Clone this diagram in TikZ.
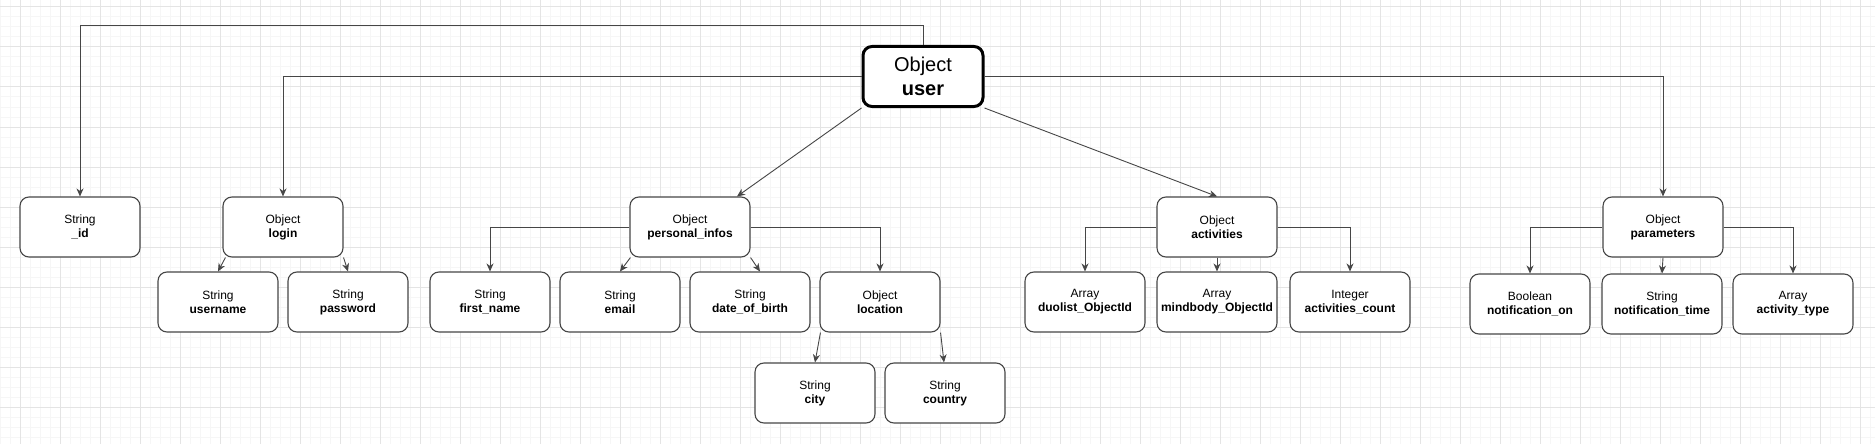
\documentclass[tikz,border=0pt]{standalone}
\usepackage{fontspec}
\setmainfont{Liberation Sans}
\usepackage{tikz}
\usetikzlibrary{calc,arrows.meta}

\definecolor{minorgrid}{RGB}{246,246,246}
\definecolor{majorgrid}{RGB}{228,228,228}
\definecolor{edge}{RGB}{70,70,70}

\tikzset{
    field/.style={draw=edge, line width=1.1pt, rounded corners=9pt, fill=white,
        minimum width=120pt, minimum height=60pt, inner sep=0pt, align=center,
        font=\fontsize{12}{14}\selectfont},
    root/.style={field, draw=black, line width=3pt, font=\fontsize{20}{24}\selectfont},
    link/.style={draw=edge, line width=0.9pt, -{Stealth[length=8pt,width=7pt,inset=2.5pt]}},
}

\begin{document}
\begin{tikzpicture}[x=1pt,y=-1pt]
        \useasboundingbox (0,0) rectangle (1875,444);
        \fill[white] (0,0) rectangle (1875,444);
        % background grid
        \foreach \gx in {0,10,...,1870}
        \draw[minorgrid, line width=1pt] (\gx,0) -- (\gx,444);
        \foreach \gy in {7,17,...,437}
        \draw[minorgrid, line width=1pt] (0,\gy) -- (1875,\gy);
        \foreach \gx in {20,60,...,1860}
        \draw[majorgrid, line width=1pt] (\gx,0) -- (\gx,444);
        \foreach \gy in {7,47,...,407}
        \draw[majorgrid, line width=1pt] (0,\gy) -- (1875,\gy);

        % root
        \node[root] (user) at (923,76.5) {Object\\\textbf{user}};

        % first level
        \node[field] (id) at (80,227) {String\\\textbf{\_id}};
        \node[field] (login) at (283,227) {Object\\\textbf{login}};
        \node[field] (pinfo) at (690,227) {Object\\\textbf{personal\_infos}};
        \node[field] (activities) at (1217,227) {Object\\\textbf{activities}};
        \node[field] (params) at (1663,227) {Object\\\textbf{parameters}};

        % second level
        \node[field] (username) at (218,302) {String\\\textbf{username}};
        \node[field] (password) at (348,302) {String\\\textbf{password}};
        \node[field] (firstname) at (490,302) {String\\\textbf{first\_name}};
        \node[field] (email) at (620,302) {String\\\textbf{email}};
        \node[field] (dob) at (750,302) {String\\\textbf{date\_of\_birth}};
        \node[field] (location) at (880,302) {Object\\\textbf{location}};
        \node[field] (duolist) at (1085,302) {Array\\\textbf{duolist\_ObjectId}};
        \node[field] (mindbody) at (1217,302) {Array\\\textbf{mindbody\_ObjectId}};
        \node[field] (actcount) at (1350,302) {Integer\\\textbf{activities\_count}};
        \node[field] (notifon) at (1530,304) {Boolean\\\textbf{notification\_on}};
        \node[field] (notiftime) at (1662,304) {String\\\textbf{notification\_time}};
        \node[field] (acttype) at (1793,304) {Array\\\textbf{activity\_type}};

        % third level
        \node[field] (city) at (815,393) {String\\\textbf{city}};
        \node[field] (country) at (945,393) {String\\\textbf{country}};

        % links from user
        \draw[link] (user.north) -- ++(0,-20) -| (id.north);
        \draw[link] (user.west) -| (login.north);
        \draw[link] (user.east) -| (params.north);
        \draw[link] (user.south west) -- ([xshift=47pt]pinfo.north);
        \draw[link] (user.south east) -- (activities.north);

        % links below
        \draw[link] ([xshift=3pt]login.south west) -- (username.north);
        \draw[link] (login.south east) -- (password.north);
        \draw[link] (pinfo.west) -| (firstname.north);
        \draw[link] ([xshift=1pt]pinfo.south west) -- (email.north);
        \draw[link] (pinfo.south east) -- ([xshift=10pt]dob.north);
        \draw[link] (pinfo.east) -| (location.north);
        \draw[link] ([xshift=1pt]location.south west) -- (city.north);
        \draw[link] (location.south east) -- ([xshift=-1pt]country.north);
        \draw[link] (activities.west) -| (duolist.north);
        \draw[link] (activities.south) -- (mindbody.north);
        \draw[link] (activities.east) -| (actcount.north);
        \draw[link] (params.west) -| (notifon.north);
        \draw[link] (params.south) -- (notiftime.north);
        \draw[link] (params.east) -| (acttype.north);
    \end{tikzpicture}
\end{document}
